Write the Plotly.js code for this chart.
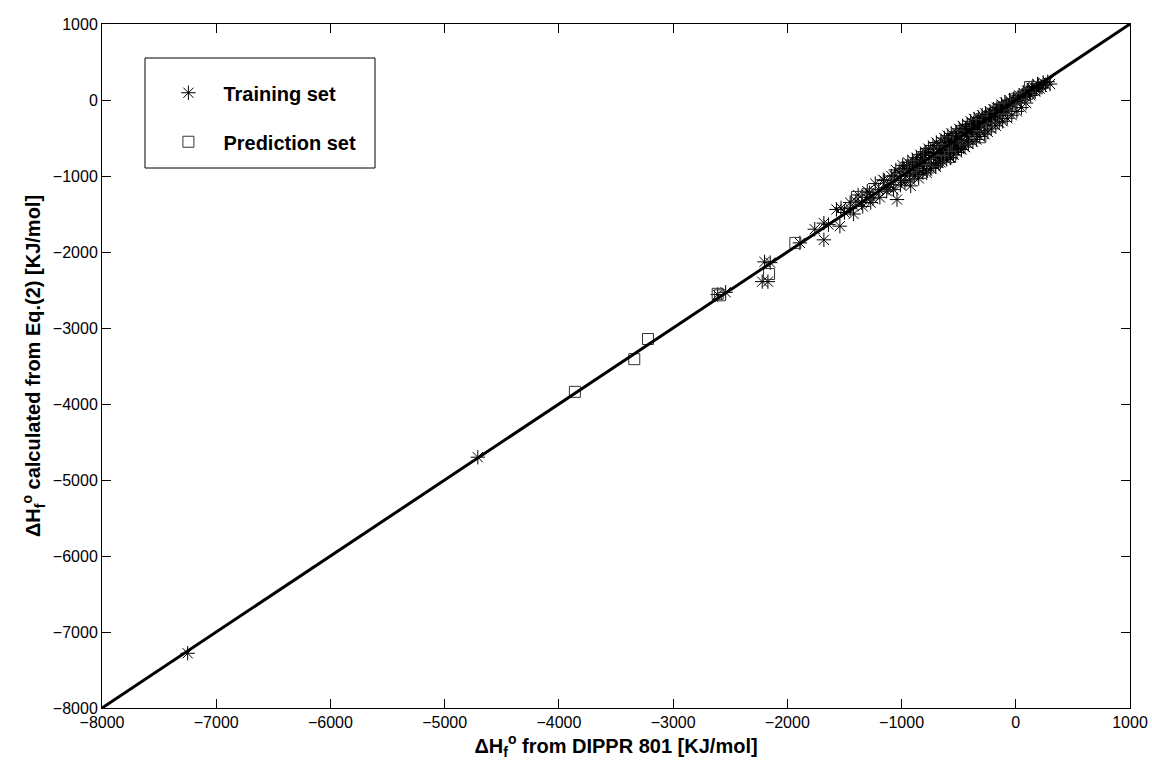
<!DOCTYPE html>
<html>
<head>
<meta charset="utf-8">
<script src="https://cdn.plot.ly/plotly-3.0.1.min.js"></script>
<style>html,body{margin:0;padding:0;background:#fff;}#chart{width:1152px;height:766px;}</style>
</head>
<body>
<div id="chart"></div>
<script>
// Training set (DIPPR value, calculated value) [kJ/mol]
const trainX = [-7250,-4710,-2540,-2610,-2200,-2150,-2220,-2170,-1890,-1680,-1760,-1680,-1640,-1570,-1530,-1540,-1500,-1450,-1400,-1350,-1310,-1280,-1250,-1200,-1150,-1120,-1100,-1060,-1040,
 -1020,-1000,-980,-960,-950,-930,-920,-900,-880,-860,-850,-840,-820,-810,-800,-790,-780,-760,-750,-740,-720,-710,-700,-690,-680,-670,-660,-650,-640,-630,-620,-610,-600,-590,-580,-570,-560,-550,-540,-530,-520,-510,-500,-490,-480,-470,-460,-450,-440,-430,-420,-410,-400,-390,-380,-370,-360,-350,-340,-330,-320,-310,-300,-290,-280,-270,-260,-250,-240,-230,-220,-210,-200,-190,-180,-170,-160,-150,-140,-130,-120,-110,-100,-90,-80,-60,-50,-30,-20,0,20,40,60,80,100,120,140,160,180,200,230,260,300,
 -1450,-1420,-1380,-1340,-1300,-1270,-1230,-1190,-1160,-1130,-1090,-1070,-1050,-1010,-990,-970,-945,-925,-905,-890,-870,-855,-835,-815,-795,-775,-765,-745,-725,-705,-695,-675,-655,-645,-625,-605,-595,-575,-565,-545,-525,-515,-495,-475,-465,-445,-425,-415,-395,-375,-365,-345,-325,-315,-295,-275,-265,-245,-225,-215,-195,-175,-165,-145,-125,-115,-95,-75,-55,-35,-15,10,30,50,70,90,110,130,150,170,190,210,240,280];
const trainY = [-7280,-4700,-2530,-2560,-2130,-2140,-2390,-2390,-1880,-1840,-1700,-1620,-1640,-1440,-1420,-1660,-1480,-1430,-1330,-1350,-1280,-1220,-1300,-1180,-1060,-1150,-1110,-1000,-1310,
 -950,-1060,-900,-1000,-880,-960,-1130,-850,-930,-800,-1030,-870,-760,-900,-820,-700,-960,-780,-690,-840,-730,-640,-880,-760,-650,-700,-820,-600,-690,-760,-580,-660,-700,-540,-620,-760,-560,-500,-620,-580,-470,-550,-640,-480,-420,-530,-600,-440,-380,-480,-520,-400,-350,-450,-380,-310,-430,-370,-300,-360,-400,-280,-330,-250,-320,-280,-220,-300,-250,-200,-260,-230,-170,-220,-190,-140,-200,-150,-120,-160,-100,-140,-80,-120,-60,-90,-30,-50,10,-20,30,10,60,50,120,90,160,130,150,190,170,200,210,
 -1350,-1500,-1250,-1400,-1200,-1350,-1100,-1280,-1050,-1200,-1000,-1180,-920,-1120,-860,-1080,-820,-1050,-790,-1000,-760,-980,-720,-950,-680,-930,-640,-900,-600,-860,-560,-830,-540,-800,-500,-780,-470,-760,-440,-720,-420,-690,-380,-650,-340,-620,-320,-580,-280,-550,-250,-520,-230,-480,-200,-450,-180,-420,-150,-380,-120,-340,-100,-300,-60,-280,-30,-240,0,-200,20,-150,60,-100,90,-40,130,60,180,110,210,150,230,240];

// Prediction set
const predX = [-3860,-3340,-3220,-2610,-2590,-2160,-1930,-1390,-1300,-1100,-950,-900,-820,-760,-700,-640,-600,-575,-500,-450,-310,-350,-300,-250,-200,-150,-100,-50,0,50,100,125];
const predY = [-3840,-3410,-3145,-2550,-2570,-2290,-1880,-1276,-1240,-1120,-1000,-870,-920,-700,-800,-660,-560,-750,-470,-520,-490,-330,-250,-280,-230,-120,-110,-60,10,30,80,171];

// Reference line y = x
const lineX = [-8000, 1000];
const lineY = [-8000, 1000];

const font = "Liberation Sans, Arial, sans-serif";

const data = [
  {x: trainX, y: trainY, type: 'scatter', mode: 'markers', name: 'Training set', legendgroup: 'a',
   marker: {symbol: 'asterisk-open', size: 12, color: '#000', line: {color: '#000', width: 1}}},
  {x: predX, y: predY, type: 'scatter', mode: 'markers', name: 'Prediction set', legendgroup: 'b',
   marker: {symbol: 'square-open', size: 11, color: '#333', line: {color: '#333', width: 1}}},
  {x: lineX, y: lineY, type: 'scatter', mode: 'lines', showlegend: false,
   line: {color: '#000', width: 3}}
];

const axisCommon = {
  showgrid: false, zeroline: false, showline: true, linecolor: '#000', linewidth: 1,
  mirror: 'ticks', ticks: 'inside', ticklen: 9, tickcolor: '#000', tickwidth: 1,
  tickfont: {family: font, size: 16, color: '#000'}, dtick: 1000
};

const layout = {
  width: 1152, height: 766,
  margin: {l: 102, r: 22, t: 24, b: 58},
  paper_bgcolor: '#fff', plot_bgcolor: '#fff',
  font: {family: font, color: '#000'},
  xaxis: Object.assign({}, axisCommon, {range: [-8000, 1000], tick0: -8000,
    title: {text: '<b>ΔH<sub>f</sub><sup>o</sup> from DIPPR 801 [KJ/mol]</b>', font: {family: font, size: 20, color: '#000'}, standoff: 4}}),
  yaxis: Object.assign({}, axisCommon, {range: [-8000, 1000], tick0: -8000,
    title: {text: '<b>ΔH<sub>f</sub><sup>o</sup> calculated from Eq.(2) [KJ/mol]</b>', font: {family: font, size: 20, color: '#000'}, standoff: 6}}),
  showlegend: true,
  legend: {x: 0.05, y: 0.928, xanchor: 'left', yanchor: 'top', bgcolor: 'rgba(0,0,0,0)', borderwidth: 0,
    font: {family: font, size: 20, color: '#000', weight: 'bold'}, tracegroupgap: 20, itemwidth: 60,
    traceorder: 'grouped'},
  shapes: [{type: 'rect', xref: 'paper', yref: 'paper', x0: (145-102)/1028, x1: (375-102)/1028,
    y0: 1-(168-24)/684, y1: 1-(58-24)/684, line: {color: '#000', width: 1}, fillcolor: '#fff', layer: 'below'}]
};

Plotly.newPlot('chart', data, layout, {displayModeBar: false, staticPlot: true});
</script>
</body>
</html>
